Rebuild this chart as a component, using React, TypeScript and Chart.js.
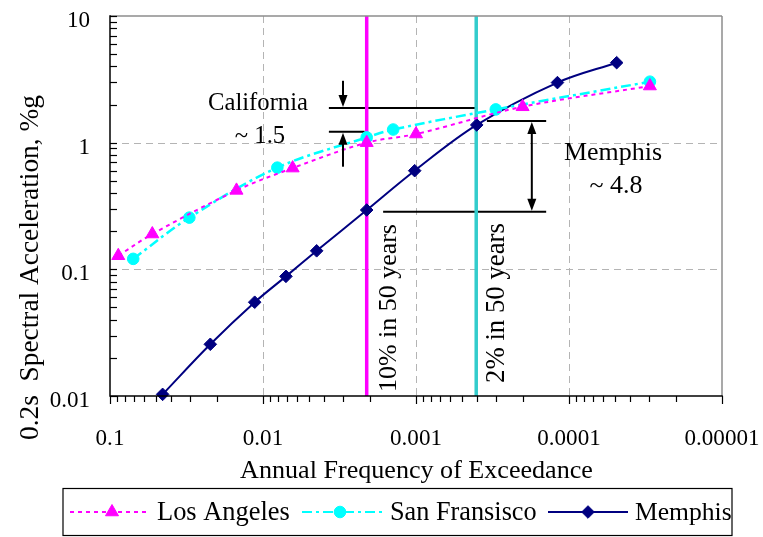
import React, { useEffect, useRef } from 'react';
import { Chart, registerables } from 'chart.js';

Chart.register(...registerables);

// ---- Data ----
const laFreq = [0.0883, 0.0529, 0.0149, 0.0064, 0.0021, 0.001, 0.000201, 0.0000296];
const laAccel = [0.128, 0.19, 0.42, 0.63, 1.0, 1.17, 1.92, 2.8];

const sfFreq = [0.0705, 0.0303, 0.00806, 0.0021, 0.00141, 0.000301, 0.0000296];
const sfAccel = [0.121, 0.256, 0.635, 1.1, 1.27, 1.83, 3.03];

const memFreq = [0.0453, 0.0221, 0.01133, 0.00708, 0.00446, 0.0021, 0.00102, 0.000401, 0.000119, 0.0000488];
const memAccel = [0.0103, 0.0256, 0.055, 0.088, 0.14, 0.294, 0.601, 1.38, 2.98, 4.28];

const seriesNames = ['Los Angeles', 'San Fransisco', 'Memphis'];

const xTicks = [0.1, 0.01, 0.001, 0.0001, 0.00001];
const xTickLabels = ['0.1', '0.01', '0.001', '0.0001', '0.00001'];
const yTicks = [0.01, 0.1, 1, 10];
const yTickLabels = ['0.01', '0.1', '1', '10'];

const hazardFreq = [0.0021, 0.000404];
const hazardLabels = ['10% in 50 years', '2% in 50 years'];

// annotation levels (data units)
const caTop = 1.88;
const caBottom = 1.22;
const caLineStart = 0.00371;
const caArrowX = 0.003;
const caArrowTail = [3.08, 0.646];
const memTop = 1.48;
const memBottom = 0.285;
const memTopStart = 0.000344;
const memBottomStart = 0.00164;
const memLineEnd = 0.000141;
const memArrowX = 0.000175;

const xTitle = 'Annual Frequency of Exceedance';
const yTitle = '0.2s  Spectral Acceleration, %g';

const FONT = '"Liberation Serif", "Times New Roman", Times, serif';
const f = (s: number) => `${s}px ${FONT}`;

const MAGENTA = '#FF00FF';
const CYAN = '#00FFFF';
const NAVY = '#000080';
const TEAL = '#33CCCC';

const LA_DASH = [4, 4];
const SF_DASH = [10, 4, 3, 4];

function seg(ctx: CanvasRenderingContext2D, x1: number, y1: number, x2: number, y2: number) {
  ctx.beginPath();
  ctx.moveTo(x1, y1);
  ctx.lineTo(x2, y2);
  ctx.stroke();
}

// set a font whose rendered width of `text` equals `w`
function fit(ctx: CanvasRenderingContext2D, text: string, w: number, base: number) {
  ctx.font = f(base);
  const m = ctx.measureText(text).width || w;
  ctx.font = f(base * (w / m));
}

function arrowHead(ctx: CanvasRenderingContext2D, x: number, tipY: number, dir: number) {
  const len = 12;
  const hw = 4.5;
  ctx.beginPath();
  ctx.moveTo(x, tipY);
  ctx.lineTo(x - hw, tipY - dir * len);
  ctx.lineTo(x + hw, tipY - dir * len);
  ctx.closePath();
  ctx.fill();
}

function marker(ctx: CanvasRenderingContext2D, kind: string, x: number, y: number, color: string) {
  ctx.fillStyle = color;
  ctx.strokeStyle = color;
  ctx.lineWidth = 1;
  ctx.setLineDash([]);
  ctx.beginPath();
  if (kind === 'triangle') {
    const r = 7.5;
    ctx.moveTo(x, y - r);
    ctx.lineTo(x + 0.866 * r, y + r / 2);
    ctx.lineTo(x - 0.866 * r, y + r / 2);
    ctx.closePath();
  } else if (kind === 'circle') {
    ctx.arc(x, y, 5.8, 0, Math.PI * 2);
  } else {
    const r = 6.3;
    ctx.moveTo(x - r, y);
    ctx.lineTo(x, y - r);
    ctx.lineTo(x + r, y);
    ctx.lineTo(x, y + r);
    ctx.closePath();
  }
  ctx.fill();
  ctx.stroke();
}

const decorPlugin = {
  id: 'decor',
  beforeDatasetsDraw(chart: any) {
    const { ctx, chartArea: a, scales } = chart;
    const xs = scales.x;
    const ys = scales.y;
    ctx.save();
    ctx.strokeStyle = '#B4B4B4';
    ctx.lineWidth = 1;
    ctx.setLineDash([7, 5]);
    for (const v of xTicks) {
      const px = Math.round(xs.getPixelForValue(v)) + 0.5;
      if (px <= a.left + 2 || px >= a.right - 2) continue;
      seg(ctx, px, a.top, px, a.bottom);
    }
    for (const v of yTicks) {
      const py = Math.round(ys.getPixelForValue(v)) + 0.5;
      if (py <= a.top + 2 || py >= a.bottom - 2) continue;
      seg(ctx, a.left, py, a.right, py);
    }
    ctx.setLineDash([]);

    ctx.strokeStyle = '#000';
    ctx.lineWidth = 2;
    const caX0 = xs.getPixelForValue(caLineStart);
    seg(ctx, caX0, ys.getPixelForValue(caTop), xs.getPixelForValue(hazardFreq[1]), ys.getPixelForValue(caTop));
    seg(ctx, caX0, ys.getPixelForValue(caBottom), xs.getPixelForValue(hazardFreq[0]) - 2, ys.getPixelForValue(caBottom));
    const mEnd = xs.getPixelForValue(memLineEnd);
    seg(ctx, xs.getPixelForValue(memTopStart), ys.getPixelForValue(memTop), mEnd, ys.getPixelForValue(memTop));
    seg(ctx, xs.getPixelForValue(memBottomStart), ys.getPixelForValue(memBottom), mEnd, ys.getPixelForValue(memBottom));

    ctx.lineWidth = 3.5;
    const hazardColors = [MAGENTA, TEAL];
    hazardFreq.forEach((v, i) => {
      const px = xs.getPixelForValue(v);
      ctx.strokeStyle = hazardColors[i];
      seg(ctx, px, a.top, px, a.bottom);
    });
    ctx.restore();
  },
  afterDatasetsDraw(chart: any) {
    const { ctx, chartArea: a, scales } = chart;
    const xs = scales.x;
    const ys = scales.y;
    ctx.save();
    ctx.setLineDash([]);

    // frame
    ctx.strokeStyle = '#8C8C8C';
    ctx.lineWidth = 1.5;
    seg(ctx, a.left, a.top, a.right, a.top);
    seg(ctx, a.right, a.top, a.right, a.bottom);
    ctx.strokeStyle = '#000';
    seg(ctx, a.left, a.top - 0.75, a.left, a.bottom + 0.75);
    seg(ctx, a.left, a.bottom, a.right + 0.75, a.bottom);

    // y ticks (inside)
    ctx.lineWidth = 1.2;
    for (let k = -2; k <= 0; k++) {
      for (let d = 1; d <= 9; d++) {
        const py = Math.round(ys.getPixelForValue(d * Math.pow(10, k))) + 0.5;
        seg(ctx, a.left, py, a.left + 7, py);
      }
    }
    {
      const py = Math.round(ys.getPixelForValue(10)) + 0.5;
      seg(ctx, a.left, py, a.left + 7, py);
    }
    // x ticks (outside)
    for (let k = -5; k <= -2; k++) {
      for (let d = 1; d <= 9; d++) {
        const px = Math.round(xs.getPixelForValue(d * Math.pow(10, k))) + 0.5;
        seg(ctx, px, a.bottom, px, a.bottom + (d === 1 ? 8 : 6));
      }
    }
    {
      const px = Math.round(xs.getPixelForValue(0.1)) + 0.5;
      seg(ctx, px, a.bottom, px, a.bottom + 8);
    }

    // tick labels
    ctx.fillStyle = '#000';
    ctx.textBaseline = 'alphabetic';
    fit(ctx, '0.00001', 75, 23);
    ctx.textAlign = 'right';
    yTicks.forEach((v, i) => {
      ctx.fillText(yTickLabels[i], a.left - 20, ys.getPixelForValue(v) + 11);
    });
    ctx.textAlign = 'center';
    xTicks.forEach((v, i) => {
      ctx.fillText(xTickLabels[i], xs.getPixelForValue(v), a.bottom + 49);
    });

    // axis titles
    fit(ctx, xTitle, 353, 26);
    ctx.fillText(xTitle, 416.5, a.bottom + 82);
    ctx.save();
    ctx.translate(38, 267.5);
    ctx.rotate(-Math.PI / 2);
    fit(ctx, yTitle, 345, 27);
    ctx.textAlign = 'center';
    ctx.fillText(yTitle, 0, 0);
    ctx.restore();

    // hazard labels (vertical)
    const hzBase = [29, 28];
    const hzStart = [4, 13];
    const hzWidth = [168, 160];
    hazardFreq.forEach((v, i) => {
      const px = xs.getPixelForValue(v);
      ctx.save();
      ctx.translate(px + hzBase[i], a.bottom - hzStart[i]);
      ctx.rotate(-Math.PI / 2);
      ctx.textAlign = 'left';
      fit(ctx, hazardLabels[i], hzWidth[i], 24);
      ctx.fillText(hazardLabels[i], 0, 0);
      ctx.restore();
    });

    // arrows
    ctx.strokeStyle = '#000';
    ctx.fillStyle = '#000';
    ctx.lineWidth = 2;
    const cax = xs.getPixelForValue(caArrowX);
    const caT = ys.getPixelForValue(caTop);
    const caB = ys.getPixelForValue(caBottom);
    seg(ctx, cax, ys.getPixelForValue(caArrowTail[0]), cax, caT - 8);
    arrowHead(ctx, cax, caT - 1, 1);
    seg(ctx, cax, ys.getPixelForValue(caArrowTail[1]), cax, caB + 8);
    arrowHead(ctx, cax, caB + 1, -1);
    const mx = xs.getPixelForValue(memArrowX);
    const mT = ys.getPixelForValue(memTop);
    const mB = ys.getPixelForValue(memBottom);
    seg(ctx, mx, mT + 8, mx, mB - 8);
    arrowHead(ctx, mx, mT + 1, -1);
    arrowHead(ctx, mx, mB - 1, 1);

    // annotation texts
    ctx.textAlign = 'center';
    fit(ctx, 'California', 100, 25);
    ctx.fillText('California', 258, 110);
    ctx.fillText('~ 1.5', 260, 143);
    fit(ctx, 'Memphis', 98, 26);
    ctx.fillText('Memphis', 613, 160);
    ctx.fillText('~ 4.8', 616, 193);

    // legend
    ctx.strokeStyle = '#000';
    ctx.lineWidth = 1.2;
    ctx.strokeRect(63, 488.5, 669, 47);
    const ly = 512;
    const items = [
      { x0: 70, x1: 147, mx: 112, tx: 157, tw: 133, color: MAGENTA, dash: LA_DASH, w: 2, kind: 'triangle' },
      { x0: 302, x1: 384, mx: 340, tx: 390, tw: 146.7, color: CYAN, dash: SF_DASH, w: 2, kind: 'circle' },
      { x0: 548, x1: 628, mx: 588, tx: 635, tw: 96.7, color: NAVY, dash: [] as number[], w: 2, kind: 'diamond' },
    ];
    items.forEach((it, i) => {
      ctx.strokeStyle = it.color;
      ctx.lineWidth = it.w;
      ctx.setLineDash(it.dash);
      seg(ctx, it.x0, ly, it.x1, ly);
      ctx.setLineDash([]);
      marker(ctx, it.kind, it.mx, ly, it.color);
      ctx.fillStyle = '#000';
      fit(ctx, seriesNames[i], it.tw, 26);
      ctx.textAlign = 'left';
      ctx.fillText(seriesNames[i], it.tx, 520);
    });
    ctx.restore();
  },
};

export default function App() {
  const ref = useRef<HTMLCanvasElement>(null);
  useEffect(() => {
    document.body.style.margin = '0';
    const canvas = ref.current;
    if (!canvas) return;
    const toPts = (xs: number[], ys: number[]) => xs.map((x, i) => ({ x, y: ys[i] }));
    const chart = new Chart(canvas, {
      type: 'line',
      data: {
        datasets: [
          {
            label: seriesNames[0],
            data: toPts(laFreq, laAccel),
            borderColor: MAGENTA,
            borderWidth: 2,
            borderDash: LA_DASH,
            tension: 0.35,
            pointStyle: 'triangle',
            pointRadius: 7.5,
            pointBackgroundColor: MAGENTA,
            pointBorderColor: MAGENTA,
            pointBorderWidth: 1,
            clip: false,
          },
          {
            label: seriesNames[1],
            data: toPts(sfFreq, sfAccel),
            borderColor: CYAN,
            borderWidth: 2.5,
            borderDash: SF_DASH,
            tension: 0.35,
            pointStyle: 'circle',
            pointRadius: 5.8,
            pointBackgroundColor: CYAN,
            pointBorderColor: CYAN,
            pointBorderWidth: 1,
            clip: false,
          },
          {
            label: seriesNames[2],
            data: toPts(memFreq, memAccel),
            borderColor: NAVY,
            borderWidth: 2,
            tension: 0.35,
            pointStyle: 'rectRot',
            pointRadius: 6.3,
            pointBackgroundColor: NAVY,
            pointBorderColor: NAVY,
            pointBorderWidth: 1,
            clip: false,
          },
        ] as any,
      },
      options: {
        animation: false,
        responsive: false,
        devicePixelRatio: 1,
        layout: { padding: { left: 110, top: 16, right: 41, bottom: 141 } },
        scales: {
          x: { type: 'logarithmic', reverse: true, min: 0.00001, max: 0.1, display: false },
          y: { type: 'logarithmic', min: 0.01, max: 10, display: false },
        },
        plugins: {
          legend: { display: false },
          tooltip: { enabled: false },
        },
      } as any,
      plugins: [decorPlugin],
    });
    return () => chart.destroy();
  }, []);
  return (
    <canvas
      ref={ref}
      width={763}
      height={537}
      style={{ display: 'block', width: '763px', height: '537px' }}
    />
  );
}
